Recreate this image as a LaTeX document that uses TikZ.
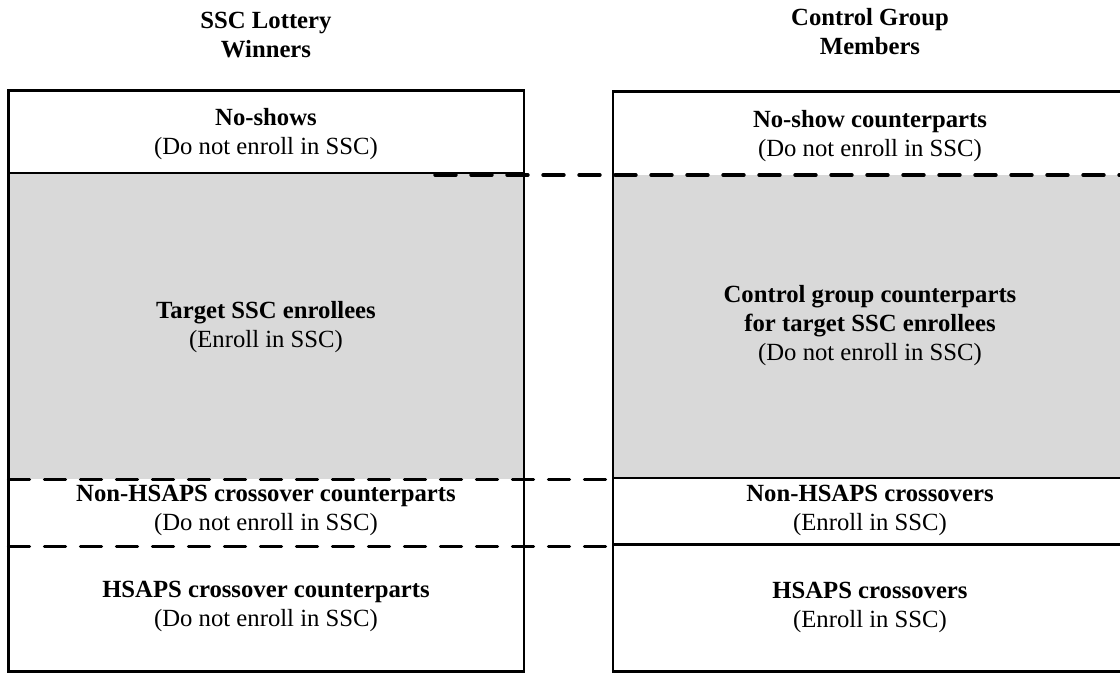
\documentclass[tikz,border=0pt]{standalone}
\usepackage{fontspec}
\setmainfont{Liberation Serif}
\definecolor{grayfill}{HTML}{D9D9D9}
\begin{document}
\begin{tikzpicture}[x=1pt,y=-1pt,
  frame/.style={draw=black,line width=2.2pt},
  solidsep/.style={draw=black,line width=2.2pt},
  dashsep/.style={draw=black,line width=3.4pt,dash pattern=on 21pt off 15pt,line cap=round},
  shade/.style={fill=grayfill},
  lbl/.style={align=center,font=\fontsize{24.7}{29}\selectfont,inner sep=0pt},
]
\clip (0,0) rectangle (1120,673);
% shaded regions
\fill[shade] (8.5,172.7) rectangle (524,479);
\fill[shade] (613,175) rectangle (1127,478);
% left column
\draw[frame] (8.5,90.5) rectangle (524,671.5);
\draw[solidsep] (8.5,172.7) -- (524,172.7);
% right column
\draw[frame] (613,91.5) rectangle (1127,671.5);
\draw[solidsep] (613,478) -- (1127,478);
\draw[solidsep] (613,544.5) -- (1127,544.5);
% dashed correspondence lines
\coordinate (d1a) at (435,175);  \coordinate (d1b) at (1127,175);
\coordinate (d2a) at (8.5,479.3); \coordinate (d2b) at (608,479.3);
\coordinate (d3a) at (8.5,546.7); \coordinate (d3b) at (608,546.7);
\draw[dashsep] (d1a) -- (d1b);
\draw[dashsep] (d2a) -- (d2b);
\draw[dashsep] (d3a) -- (d3b);
% titles
\node[lbl] (tleft) at (266,34.8) {\bfseries SSC Lottery\\\bfseries Winners};
\node[lbl] (tright) at (870,32) {\bfseries Control Group\\\bfseries Members};
% left cells
\node[lbl] (noshow) at (266,134.5) {\bfseries No-shows\\(Do not enroll in SSC)};
\node[lbl] (target) at (266,327) {\bfseries Target SSC enrollees\\(Enroll in SSC)};
\node[lbl] (nonhcp) at (266,510.7) {\bfseries Non-HSAPS crossover counterparts\\(Do not enroll in SSC)};
\node[lbl] (hcp) at (266,606.5) {\bfseries HSAPS crossover counterparts\\(Do not enroll in SSC)};
% right cells
\node[lbl] (noshowcp) at (870,135.7) {\bfseries No-show counterparts\\(Do not enroll in SSC)};
\node[lbl] (ctrl) at (870,325.5) {\bfseries Control group counterparts\\\bfseries for target SSC enrollees\\(Do not enroll in SSC)};
\node[lbl] (nonh) at (870,510.8) {\bfseries Non-HSAPS crossovers\\(Enroll in SSC)};
\node[lbl] (hs) at (870,607.5) {\bfseries HSAPS crossovers\\(Enroll in SSC)};
\end{tikzpicture}
\end{document}
